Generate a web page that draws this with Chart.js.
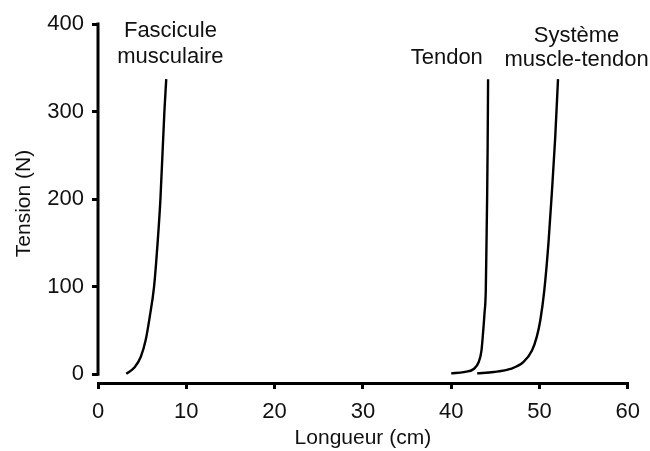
<!DOCTYPE html>
<html>
<head>
<meta charset="utf-8">
<script src="https://cdn.jsdelivr.net/npm/chart.js@4/dist/chart.umd.min.js"></script>
<style>
  html, body { margin: 0; padding: 0; background: #fff; }
  #wrap { width: 650px; height: 451px; }
</style>
</head>
<body>
<div id="wrap"><canvas id="chart"></canvas></div>
<script>
// Courbes tension-longueur (cm, N)
const fasciculeX = [3.2, 4.15, 4.85, 5.4, 5.85, 6.35, 6.75, 7.07, 7.52, 7.73];
const fasciculeY = [0.5, 8, 20, 39, 65, 100, 150, 200, 300, 337];

const tendonX = [40.0, 41.43, 42.56, 43.12, 43.43, 43.6, 43.77, 43.92, 44.0, 44.07, 44.13, 44.18];
const tendonY = [1, 2.5, 6, 14, 27, 46, 69, 96, 150, 200, 260, 337];

const systemeX = [42.94, 44.82, 46.7, 48.2, 49.15, 49.7, 50.1, 50.55, 51.02, 51.4, 51.78, 52.1];
const systemeY = [1, 2.5, 6, 14, 27, 43, 62, 96, 150, 207, 270, 337];

const xTicks = [0, 10, 20, 30, 40, 50, 60];
const yTicks = [0, 100, 200, 300, 400];

// étiquettes des courbes : lignes de texte + ancrage en unités du graphique
const curveLabels = [
  { lines: ["Fascicule", "musculaire"], x: 8.2, y: [392, 362] },
  { lines: ["Tendon"], x: 39.5, y: [361] },
  { lines: ["Système", "muscle-tendon"], x: 54.2, y: [386, 359] },
];

const FONT = "'Liberation Sans', Arial, Helvetica, sans-serif";

function toPoints(xs, ys) {
  return xs.map((x, i) => ({ x, y: ys[i] }));
}

function curve(xs, ys) {
  return {
    data: toPoints(xs, ys),
    showLine: true,
    borderColor: "#000",
    borderWidth: 2.4,
    pointRadius: 0,
    cubicInterpolationMode: "monotone",
    fill: false,
  };
}

// axe Y dessiné de 0 à 400 seulement, détaché de l'axe X
const yAxisLine = {
  id: "yAxisLine",
  afterDraw(chart) {
    const { ctx, scales } = chart;
    const x = scales.x.getPixelForValue(0);
    ctx.save();
    ctx.strokeStyle = "#000";
    ctx.lineWidth = 3;
    ctx.beginPath();
    ctx.moveTo(x, scales.y.getPixelForValue(0) + 1.5);
    ctx.lineTo(x, scales.y.getPixelForValue(400) - 1.5);
    ctx.stroke();
    ctx.restore();
  },
};

const curveText = {
  id: "curveText",
  afterDraw(chart) {
    const { ctx, scales } = chart;
    ctx.save();
    ctx.fillStyle = "#111";
    ctx.font = "22px " + FONT;
    ctx.textAlign = "center";
    ctx.textBaseline = "middle";
    curveLabels.forEach((lab) => {
      const px = scales.x.getPixelForValue(lab.x);
      lab.lines.forEach((t, i) => {
        ctx.fillText(t, px, scales.y.getPixelForValue(lab.y[i]));
      });
    });
    ctx.restore();
  },
};

new Chart(document.getElementById("chart"), {
  type: "scatter",
  data: {
    datasets: [
      curve(fasciculeX, fasciculeY),
      curve(tendonX, tendonY),
      curve(systemeX, systemeY),
    ],
  },
  options: {
    responsive: true,
    maintainAspectRatio: false,
    animation: false,
    layout: { padding: { top: 24, right: 21, left: 0, bottom: 0 } },
    plugins: {
      legend: { display: false },
      tooltip: { enabled: false },
    },
    scales: {
      x: {
        type: "linear",
        min: 0,
        max: 60,
        afterBuildTicks: (s) => { s.ticks = xTicks.map((v) => ({ value: v })); },
        afterFit: (s) => { s.height = 68; },
        border: { display: true, color: "#000", width: 3 },
        grid: { drawOnChartArea: false, color: "#000", lineWidth: 3, tickLength: 6 },
        ticks: { color: "#111", font: { family: FONT, size: 22 }, padding: 10 },
        title: {
          display: true,
          text: "Longueur (cm)",
          color: "#111",
          font: { family: FONT, size: 21 },
          padding: { top: 0, bottom: 0 },
        },
      },
      y: {
        type: "linear",
        min: -10,
        max: 400,
        afterBuildTicks: (s) => { s.ticks = yTicks.map((v) => ({ value: v })); },
        afterFit: (s) => { s.width = 98; },
        border: { display: false },
        grid: { drawOnChartArea: false, color: "#000", lineWidth: 3, tickLength: 6 },
        ticks: { color: "#111", font: { family: FONT, size: 22 }, padding: 8 },
        title: {
          display: true,
          text: "Tension (N)",
          color: "#111",
          font: { family: FONT, size: 21 },
          padding: { top: 12, bottom: 0 },
        },
      },
    },
  },
  plugins: [yAxisLine, curveText],
});
</script>
</body>
</html>
